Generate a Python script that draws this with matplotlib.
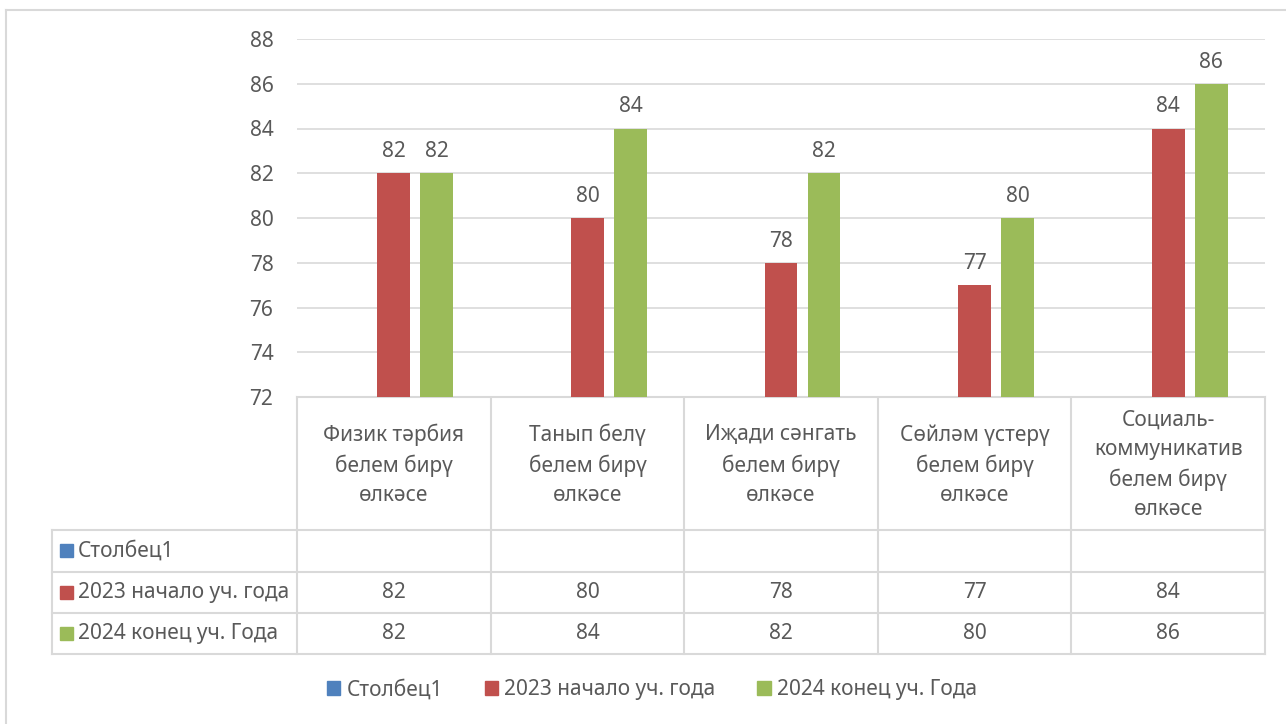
import numpy as np
import matplotlib.pyplot as plt
from matplotlib.patches import Patch

plt.rcParams['font.family'] = ['Noto Sans', 'DejaVu Sans']

# Data
categories = ['Физик тәрбия\nбелем бирү\nөлкәсе',
              'Танып белү\nбелем бирү\nөлкәсе',
              'Иҗади сәнгать\nбелем бирү\nөлкәсе',
              'Сөйләм үстерү\nбелем бирү\nөлкәсе',
              'Социаль-\nкоммуникатив\nбелем бирү\nөлкәсе']
series_names = ['Столбец1', '2023 начало уч. года', '2024 конец уч. Года']
col1 = [None, None, None, None, None]
start_2023 = [82, 80, 78, 77, 84]
end_2024 = [82, 84, 82, 80, 86]
colors = ['#4F81BD', '#C0504D', '#9BBB59']
yticks = [72, 74, 76, 78, 80, 82, 84, 86, 88]

W, H = 1286, 724
txt = '#595959'
grid = '#D9D9D9'
fs = 15

fig = plt.figure(figsize=(W / 100, H / 100), dpi=100)

# pixel geometry of the plot area
x0, x1 = 297, 1265
ytop, ybot = 39, 397
ax = fig.add_axes([x0 / W, 1 - ybot / H, (x1 - x0) / W, (ybot - ytop) / H])

n = len(categories)
xc = np.arange(n) + 0.5
bw = 0.17
off = 0.222
values = [col1, start_2023, end_2024]
for k, vals in enumerate(values):
    v = [np.nan if a is None else a for a in vals]
    heights = [0 if np.isnan(a) else a - 72 for a in v]
    bars = ax.bar(xc + (k - 1) * off, heights, bw, bottom=72, color=colors[k], zorder=3)
    for b, a in zip(bars, v):
        if not np.isnan(a):
            ax.annotate(f'{a:g}', (b.get_x() + b.get_width() / 2, a),
                        xytext=(0, 8), textcoords='offset points',
                        ha='center', va='bottom', fontsize=fs, color=txt)

ax.set_xlim(0, n)
ax.set_ylim(72, 88)
ax.set_yticks(yticks)
ax.set_xticks([])
ax.tick_params(axis='y', length=0, pad=17, labelsize=fs, labelcolor=txt)
ax.grid(axis='y', color=grid, lw=1.2, zorder=0)
for s in ['top', 'right', 'left']:
    ax.spines[s].set_visible(False)
ax.spines['bottom'].set_color(grid)
ax.spines['bottom'].set_linewidth(1.5)

# overlay in pixel coordinates for the data table and border
ov = fig.add_axes([0, 0, 1, 1], zorder=-1)
ov.set_xlim(0, W)
ov.set_ylim(H, 0)
ov.axis('off')
ov.patch.set_alpha(0)

lc = dict(color=grid, lw=1.5)
colw = (x1 - x0) / n
rows = [530, 572, 613, 654]
xl = 52
for k in range(n + 1):
    ov.plot([x0 + k * colw] * 2, [ybot, rows[-1]], **lc)
ov.plot([xl, xl], [rows[0], rows[-1]], **lc)
for y in rows:
    ov.plot([xl, x1], [y, y], **lc)

for k, c in enumerate(categories):
    ov.text(x0 + (k + 0.5) * colw, 465, c, ha='center', va='center',
            fontsize=fs, color=txt, linespacing=1.5)

for r, (name, vals) in enumerate(zip(series_names, values)):
    yc = (rows[r] + rows[r + 1]) / 2
    ov.add_patch(plt.Rectangle((60, yc - 7), 13, 13, color=colors[r]))
    ov.text(78, yc, name, ha='left', va='center', fontsize=fs, color=txt)
    for k, a in enumerate(vals):
        if a is not None:
            ov.text(x0 + (k + 0.5) * colw, yc, f'{a:g}', ha='center',
                    va='center', fontsize=fs, color=txt)

# chart border
ov.plot([6, 6], [10, H], **lc)
ov.plot([6, W], [10, 10], **lc)

handles = [Patch(color=c) for c in colors]
fig.legend(handles, series_names, loc='center', bbox_to_anchor=(652 / W, 1 - 690 / H),
           ncol=3, frameon=False, fontsize=fs, labelcolor=txt,
           handlelength=0.65, handleheight=0.65, handletextpad=0.3, columnspacing=2.0)

fig.savefig('out.png', dpi=100, facecolor='white')
